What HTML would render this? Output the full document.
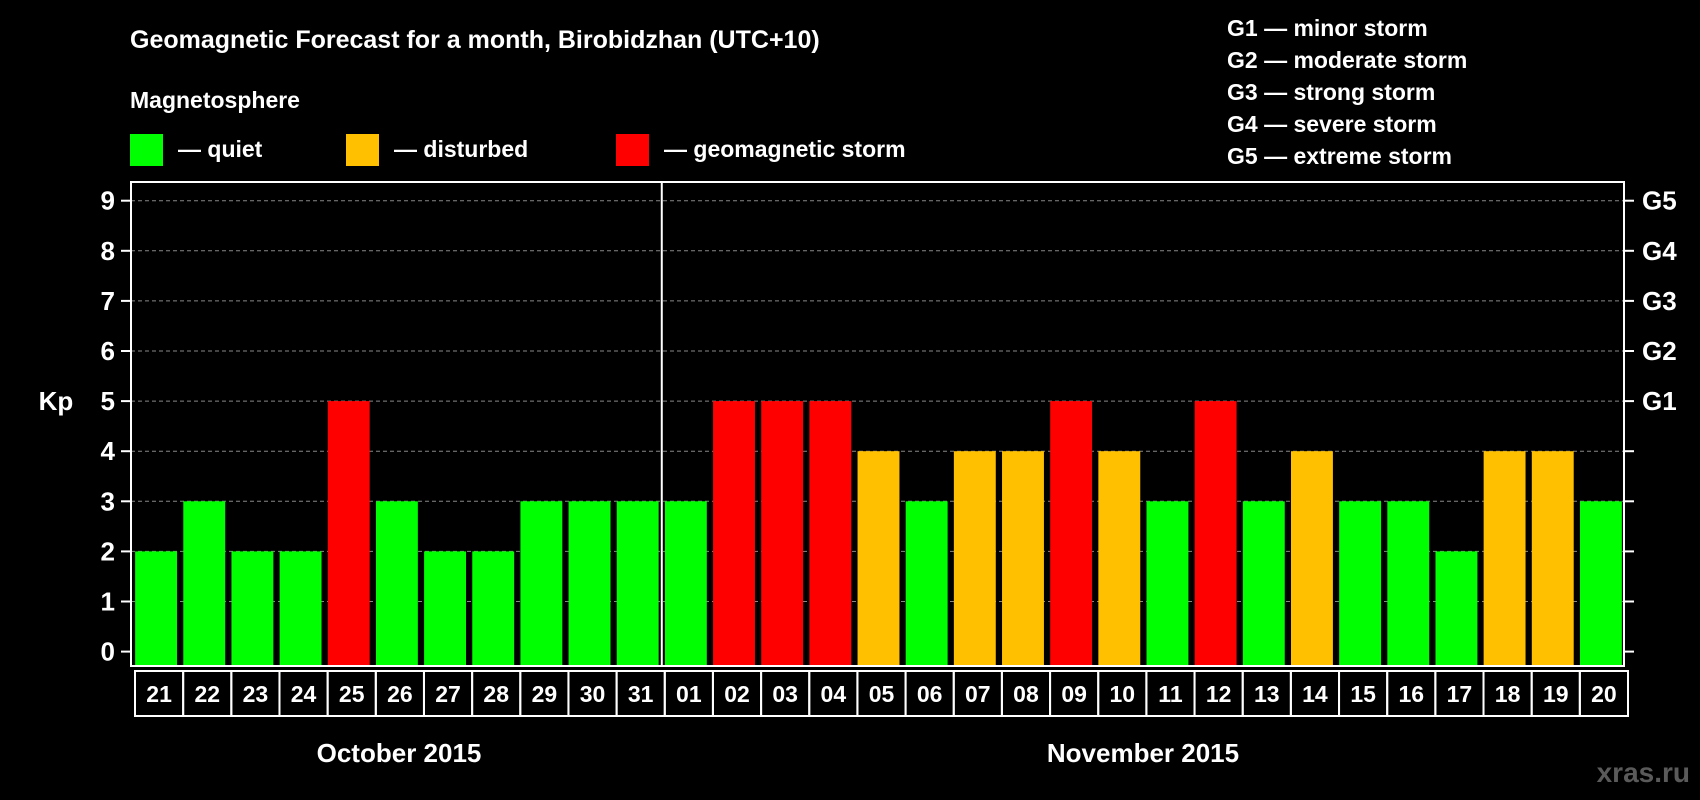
<!DOCTYPE html>
<html><head><meta charset="utf-8"><style>
html,body{margin:0;padding:0;background:#000;}
svg{display:block;font-family:"Liberation Sans",Arial,sans-serif;font-weight:bold;}
</style></head><body>
<svg id="chart" width="1700" height="800" viewBox="0 0 1700 800" xmlns="http://www.w3.org/2000/svg">
<rect width="1700" height="800" fill="#000"/>
<text x="130" y="48" fill="#fff" font-size="25">Geomagnetic Forecast for a month, Birobidzhan (UTC+10)</text>
<text x="130" y="108" fill="#fff" font-size="23">Magnetosphere</text>
<g>
<rect x="130" y="134" width="33" height="32" fill="#00ff00"/>
<text x="178" y="157" fill="#fff" font-size="23">— quiet</text></g>
<g>
<rect x="346" y="134" width="33" height="32" fill="#ffc000"/>
<text x="394" y="157" fill="#fff" font-size="23">— disturbed</text></g>
<g>
<rect x="616" y="134" width="33" height="32" fill="#ff0000"/>
<text x="664" y="157" fill="#fff" font-size="23">— geomagnetic storm</text></g>
<g font-size="23" fill="#fff">
<text x="1227" y="36">G1 — minor storm</text>
<text x="1227" y="68">G2 — moderate storm</text>
<text x="1227" y="100">G3 — strong storm</text>
<text x="1227" y="132">G4 — severe storm</text>
<text x="1227" y="164">G5 — extreme storm</text>
</g>
<text x="56" y="410" fill="#fff" font-size="26" text-anchor="middle">Kp</text>
<g id="plot"></g>
<text x="399" y="762" fill="#fff" font-size="26" text-anchor="middle">October 2015</text>
<text x="1143" y="762" fill="#fff" font-size="26" text-anchor="middle">November 2015</text>
<text x="1690" y="782" fill="#5a5a5a" font-size="28" text-anchor="end">xras.ru</text>
</svg>
<script>
const days = ["21","22","23","24","25","26","27","28","29","30","31","01","02","03","04","05","06","07","08","09","10","11","12","13","14","15","16","17","18","19","20"];
const kpValues = [2,3,2,2,5,3,2,2,3,3,3,3,5,5,5,4,3,4,4,5,4,3,5,3,4,3,3,2,4,4,3];
const yTicks = [0,1,2,3,4,5,6,7,8,9];
const gLabels = ["G1","G2","G3","G4","G5"];
const gLevels = [5,6,7,8,9];
const monthSplitIndex = 11;

const NS="http://www.w3.org/2000/svg";
const plot=document.getElementById('plot');
const L=131,R=1624,T=182,B=666;
const y0=651.6,unit=50.1;
const slot=(R-L)/days.length;
function yScale(v){return y0-v*unit;}
function xScale(i){return L+i*slot;}
function mk(tag,attrs){const e=document.createElementNS(NS,tag);for(const k in attrs)e.setAttribute(k,attrs[k]);plot.appendChild(e);return e;}
function color(v){return v>=5?"#ff0000":(v>=4?"#ffc000":"#00ff00");}

yTicks.forEach(v=>{
  const y=yScale(v);
  if(v>0){const g=mk('line',{x1:L,x2:R,y1:y,y2:y,stroke:'#888','stroke-width':1,'stroke-dasharray':'4,3'});
  
  }
  const t=mk('line',{x1:L-10,x2:L,y1:y,y2:y,stroke:'#fff','stroke-width':2});
  
  
  const t2=mk('line',{x1:R,x2:R+10,y1:y,y2:y,stroke:'#fff','stroke-width':2});
  
  
  const lb=mk('text',{x:L-16,y:y+9,fill:'#fff','font-size':26,'text-anchor':'end'});
  lb.textContent=v;
  
  
});
gLabels.forEach((g,i)=>{
  const lb=mk('text',{x:R+18,y:yScale(gLevels[i])+9,fill:'#fff','font-size':26});
  lb.textContent=g;
  
  
});
kpValues.forEach((v,i)=>{
  const bw=slot*0.87;
  const x=xScale(i)+(slot-bw)/2+1;
  const b=mk('rect',{x:x,y:yScale(v),width:bw,height:B-yScale(v),fill:color(v)});
  
  
  const c=mk('rect',{x:xScale(i)+4,y:671,width:slot,height:45,fill:'none',stroke:'#fff','stroke-width':2});
  
  
  const t=mk('text',{x:xScale(i)+4+slot/2,y:702,fill:'#fff','font-size':23,'text-anchor':'middle'});
  t.textContent=days[i];
  
  
});
const sx=xScale(monthSplitIndex)+1;
const sep=mk('line',{x1:sx,x2:sx,y1:T,y2:B,stroke:'#fff','stroke-width':2});


const frame=mk('rect',{x:L,y:T,width:R-L,height:B-T,fill:'none',stroke:'#fff','stroke-width':2});


</script>
</body></html>
